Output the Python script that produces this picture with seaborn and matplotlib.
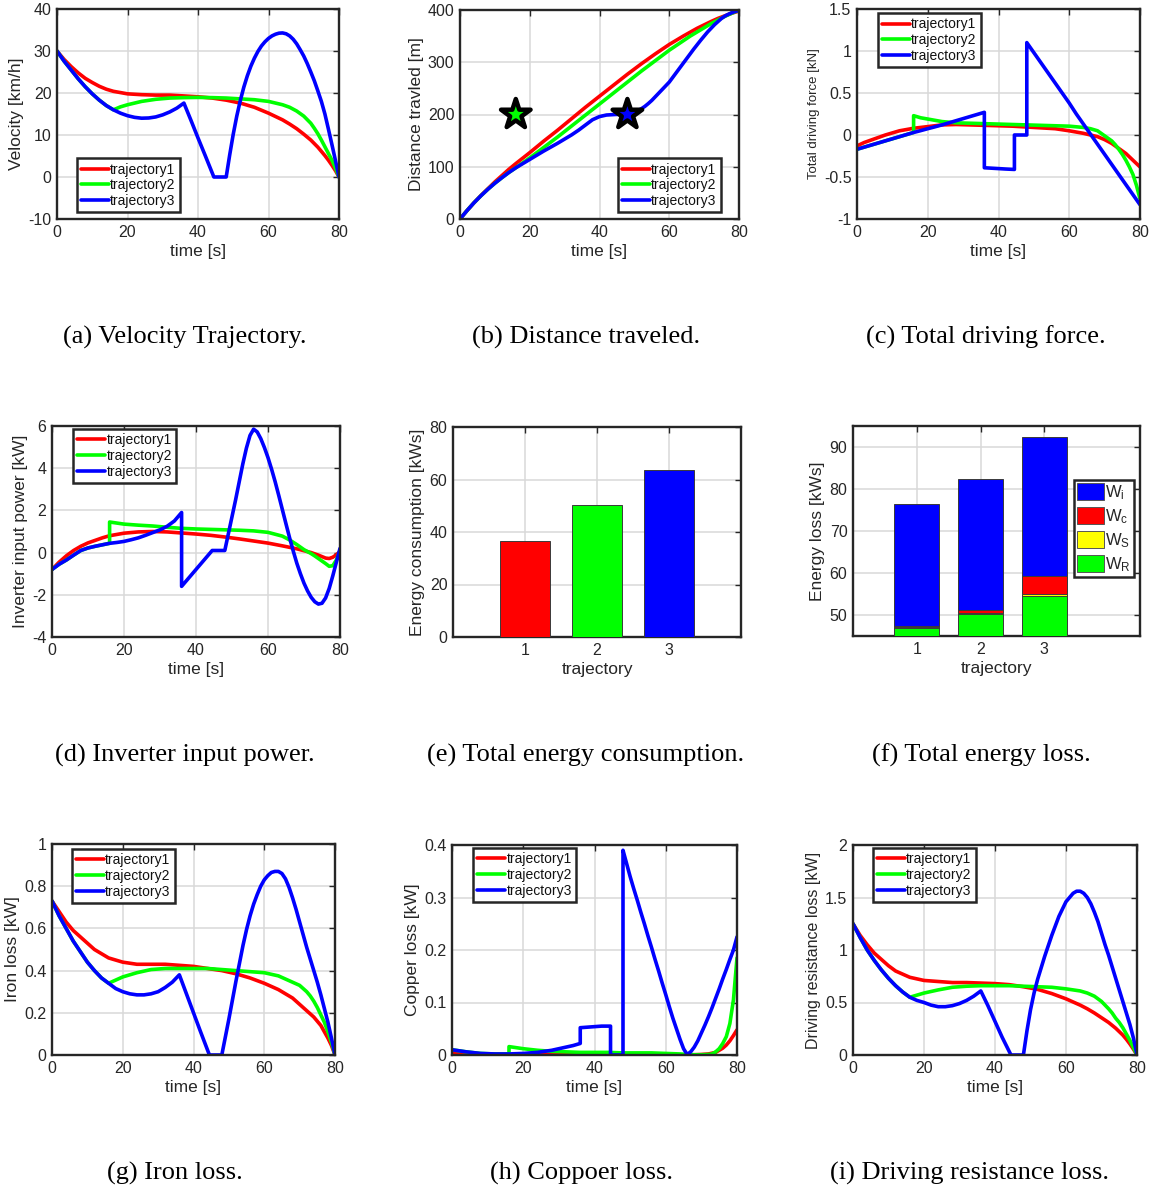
import numpy as np
import pandas as pd
import matplotlib
matplotlib.use("Agg")
import matplotlib.pyplot as plt
import seaborn as sns
from matplotlib.lines import Line2D
from matplotlib.patches import Patch

# ------------------------------------------------------------------ data
names = ["trajectory1", "trajectory2", "trajectory3"]
colors = ["#ff0000", "#00ff00", "#0000ff"]

# trajectory 1 (red)
t1 = [0, 2, 4, 6, 8, 10, 12, 14, 16, 20, 24, 28, 32, 36, 40, 44, 48, 52, 56, 60, 64, 66, 68,
      70, 72, 74, 76, 77, 78, 79, 80]
vel1 = [30, 28.0, 26.3, 24.8, 23.5, 22.5, 21.6, 20.9, 20.4, 19.8, 19.6, 19.5, 19.5, 19.3, 19.1,
        18.8, 18.3, 17.6, 16.6, 15.2, 13.6, 12.6, 11.5, 10.2, 8.8, 7.1, 5.1, 4.0, 2.8, 1.5, 0]
dist1 = [0, 16, 31, 45, 58, 71, 83, 95, 106, 127, 149, 170, 192, 214, 235, 256, 277, 297, 316,
         334, 350, 357.5, 365, 371.5, 378, 384, 389, 391.5, 394, 396, 398]
force1 = [-0.13, -0.09, -0.06, -0.03, 0.0, 0.025, 0.05, 0.065, 0.08, 0.10, 0.12, 0.125, 0.12,
          0.115, 0.11, 0.105, 0.095, 0.085, 0.075, 0.05, 0.02, 0.0, -0.02, -0.055, -0.10, -0.16,
          -0.22, -0.26, -0.30, -0.34, -0.38]
power1 = [-0.8, -0.45, -0.15, 0.1, 0.3, 0.46, 0.58, 0.7, 0.8, 0.92, 0.98, 1.0, 0.98, 0.93, 0.88,
          0.82, 0.74, 0.65, 0.55, 0.45, 0.32, 0.25, 0.18, 0.09, 0.0, -0.12, -0.26, -0.28, -0.22,
          -0.1, 0.05]
iron1 = [0.73, 0.68, 0.63, 0.59, 0.56, 0.53, 0.5, 0.48, 0.46, 0.44, 0.43, 0.43, 0.43, 0.425,
         0.42, 0.41, 0.4, 0.385, 0.365, 0.34, 0.31, 0.29, 0.27, 0.24, 0.21, 0.18, 0.14, 0.11,
         0.08, 0.045, 0.0]
copper1 = [0.005, 0.004, 0.003, 0.002, 0.0015, 0.001, 0.0008, 0.0007, 0.0006, 0.0008, 0.001,
           0.001, 0.001, 0.001, 0.001, 0.001, 0.001, 0.0008, 0.0006, 0.0004, 0.0002, 0.0003,
           0.0005, 0.001, 0.002, 0.005, 0.013, 0.019, 0.027, 0.037, 0.048]
resist1 = [1.25, 1.14, 1.05, 0.97, 0.91, 0.85, 0.8, 0.77, 0.74, 0.71, 0.7, 0.69, 0.69, 0.685,
           0.68, 0.67, 0.65, 0.625, 0.585, 0.535, 0.475, 0.44, 0.40, 0.355, 0.31, 0.255, 0.19,
           0.15, 0.105, 0.055, 0.0]

# trajectory 2 (green)
t2 = [0, 2, 4, 6, 8, 10, 12, 14, 16, 16, 18, 20, 24, 28, 32, 36, 40, 44, 48, 52, 56, 60, 64, 66,
      68, 70, 72, 73, 74, 75, 76, 77, 78, 79, 80]
vel2 = [30, 27.6, 25.5, 23.4, 21.5, 19.8, 18.3, 17.0, 16.0, 16.0, 16.7, 17.2, 18.0, 18.5, 18.8,
        18.9, 18.95, 18.9, 18.8, 18.6, 18.4, 18.0, 17.2, 16.6, 15.7, 14.5, 12.8, 11.6, 10.3, 8.8,
        7.2, 5.6, 4.0, 2.1, 0]
dist2 = [0, 16, 31, 44.5, 57, 68.5, 79, 89, 98, 98, 107.5, 117, 137, 157, 178, 199, 220, 241,
         262, 283, 303, 323, 341, 350, 358, 366, 374, 377.5, 381, 384.5, 388, 391, 394, 397, 399]
force2 = [-0.17, -0.145, -0.12, -0.095, -0.07, -0.045, -0.02, 0.005, 0.03, 0.23, 0.205, 0.19,
          0.16, 0.145, 0.14, 0.135, 0.13, 0.125, 0.12, 0.115, 0.11, 0.105, 0.09, 0.075, 0.05,
          -0.01, -0.07, -0.115, -0.17, -0.23, -0.30, -0.38, -0.47, -0.60, -0.76]
power2 = [-0.8, -0.55, -0.35, -0.12, 0.1, 0.22, 0.3, 0.37, 0.44, 1.45, 1.4, 1.35, 1.3, 1.26, 1.2,
          1.15, 1.12, 1.1, 1.08, 1.06, 1.03, 0.96, 0.78, 0.6, 0.38, 0.14, -0.05, -0.16, -0.28,
          -0.4, -0.52, -0.65, -0.62, -0.35, 0.1]
iron2 = [0.73, 0.66, 0.6, 0.54, 0.49, 0.44, 0.4, 0.365, 0.34, 0.34, 0.355, 0.37, 0.39, 0.405,
         0.41, 0.41, 0.41, 0.41, 0.405, 0.4, 0.395, 0.39, 0.375, 0.36, 0.345, 0.33, 0.3, 0.28,
         0.255, 0.225, 0.19, 0.155, 0.11, 0.06, 0.0]
copper2 = [0.01, 0.008, 0.006, 0.0045, 0.003, 0.0025, 0.002, 0.002, 0.002, 0.016, 0.014, 0.012,
           0.009, 0.007, 0.006, 0.005, 0.005, 0.005, 0.004, 0.004, 0.004, 0.003, 0.002, 0.001,
           0.0005, 0.0005, 0.001, 0.002, 0.006, 0.012, 0.022, 0.035, 0.06, 0.105, 0.185]
resist2 = [1.25, 1.12, 1.0, 0.9, 0.81, 0.73, 0.66, 0.6, 0.55, 0.55, 0.57, 0.59, 0.62, 0.645,
           0.655, 0.66, 0.66, 0.66, 0.655, 0.65, 0.645, 0.63, 0.61, 0.59, 0.56, 0.51, 0.44, 0.4,
           0.35, 0.31, 0.26, 0.2, 0.14, 0.07, 0.0]

# trajectory 3 (blue)
t3 = [0, 2, 4, 6, 8, 10, 12, 14, 16, 18, 20, 22, 24, 26, 28, 30, 32, 34, 36,
      36, 38, 40, 42, 44.5, 44.5, 48, 48,
      49, 50, 51, 52, 53, 54, 55, 56, 57, 58, 59, 60, 61, 62, 63, 64, 65, 66, 67, 68, 69, 70,
      71, 72, 73, 74, 75, 76, 77, 78, 79, 80]
vel3 = [30, 27.6, 25.5, 23.4, 21.5, 19.8, 18.3, 17.0, 16.0, 15.2, 14.6, 14.2, 14.0, 14.05, 14.3,
        14.8, 15.5, 16.4, 17.6,
        17.6, 13.5, 9.3, 5.2, 0, 0, 0, 0,
        5.3, 10.2, 14.5, 18.2, 21.4, 24.1, 26.4, 28.3, 29.9, 31.2, 32.2, 33.0, 33.6, 34.0, 34.25,
        34.3, 34.1, 33.6, 32.8, 31.7, 30.3, 28.8, 27.0, 25.0, 22.9, 20.5, 18.0, 15.0, 11.4, 7.7,
        3.9, 0]
dist3 = [0, 16, 31, 44.5, 57, 68.5, 79, 89, 98, 106, 114, 122, 130, 137.5, 145, 153, 161, 170,
         180,
         180, 190, 196, 199, 200, 200, 201, 201,
         202, 205, 207.5, 211, 215.5, 221, 227, 234, 241, 248, 255, 262, 271, 280, 289, 298, 307,
         316, 325, 333.5, 342, 350, 358, 365, 372, 378, 384, 388.5, 392, 395, 397.5, 399]
force3 = [-0.17, -0.145, -0.12, -0.095, -0.07, -0.045, -0.02, 0.005, 0.03, 0.052, 0.075, 0.097,
          0.12, 0.145, 0.17, 0.195, 0.22, 0.245, 0.27,
          -0.39, -0.395, -0.40, -0.405, -0.41, 0.0, 0.0, 1.1,
          1.04, 0.98, 0.92, 0.86, 0.80, 0.74, 0.68, 0.62, 0.56, 0.50, 0.44, 0.38, 0.315, 0.25,
          0.19, 0.13, 0.07, 0.01, -0.05, -0.11, -0.17, -0.23, -0.29, -0.35, -0.41, -0.47, -0.53,
          -0.59, -0.65, -0.71, -0.77, -0.83]
power3 = [-0.8, -0.55, -0.35, -0.12, 0.1, 0.22, 0.3, 0.37, 0.44, 0.48, 0.53, 0.61, 0.7, 0.82,
          0.95, 1.08, 1.25, 1.5, 1.9,
          -1.6, -1.2, -0.8, -0.4, 0.1, 0.1, 0.1, 0.1,
          0.9, 1.7, 2.5, 3.35, 4.2, 4.95, 5.55, 5.85, 5.72, 5.4, 4.98, 4.5, 3.95, 3.35, 2.7, 2.03,
          1.36, 0.7, 0.08, -0.5, -1.0, -1.45, -1.82, -2.12, -2.33, -2.44, -2.4, -2.15, -1.7,
          -1.1, -0.45, 0.2]
iron3 = [0.73, 0.66, 0.6, 0.54, 0.49, 0.44, 0.4, 0.365, 0.34, 0.315, 0.3, 0.29, 0.285, 0.285,
         0.29, 0.3, 0.32, 0.345, 0.38,
         0.38, 0.29, 0.2, 0.11, 0.0, 0.0, 0.0, 0.0,
         0.085, 0.17, 0.26, 0.35, 0.435, 0.52, 0.595, 0.66, 0.715, 0.76, 0.8, 0.83, 0.85, 0.865,
         0.87, 0.87, 0.86, 0.835, 0.795, 0.745, 0.69, 0.63, 0.57, 0.51, 0.455, 0.4, 0.345,
         0.285, 0.22, 0.155, 0.08, 0.0]
copper3 = [0.01, 0.008, 0.006, 0.0045, 0.003, 0.0025, 0.002, 0.002, 0.002, 0.0025, 0.003, 0.004,
           0.005, 0.007, 0.009, 0.012, 0.015, 0.018, 0.022,
           0.052, 0.053, 0.054, 0.055, 0.055, 0.0, 0.0, 0.39,
           0.365, 0.34, 0.317, 0.295, 0.272, 0.25, 0.227, 0.205, 0.182, 0.16, 0.137, 0.115,
           0.092, 0.07, 0.05, 0.03, 0.012, 0.001, 0.006, 0.015, 0.027, 0.042, 0.057, 0.073, 0.09,
           0.108, 0.126, 0.145, 0.163, 0.182, 0.2, 0.225]
resist3 = [1.25, 1.12, 1.0, 0.9, 0.81, 0.73, 0.66, 0.6, 0.55, 0.52, 0.5, 0.475, 0.46, 0.46, 0.47,
           0.49, 0.52, 0.56, 0.61,
           0.61, 0.47, 0.32, 0.17, 0.0, 0.0, 0.0, 0.0,
           0.23, 0.43, 0.59, 0.72, 0.83, 0.94, 1.04, 1.14, 1.23, 1.32, 1.39, 1.46, 1.5, 1.54,
           1.56, 1.56, 1.54, 1.5, 1.44, 1.36, 1.27, 1.16, 1.05, 0.95, 0.84, 0.73, 0.62, 0.51,
           0.4, 0.29, 0.16, 0.0]

# target points in the distance plot
star_t = [16, 48]
star_d = [200, 200]
star_traj = ["trajectory2", "trajectory3"]

# energy consumption (e)
traj_ids = [1, 2, 3]
energy_consumption = [36.5, 50.2, 63.5]

# energy loss components (f)
loss_R = [47.0, 50.3, 54.5]
loss_S = [0.1, 0.1, 0.4]
loss_c = [0.3, 0.8, 4.5]
loss_i = [29.1, 31.1, 32.9]
loss_labels = ["W$_\\mathregular{i}$", "W$_\\mathregular{c}$", "W$_\\mathregular{S}$",
               "W$_\\mathregular{R}$"]
loss_colors = ["#0000ff", "#ff0000", "#ffff00", "#00ff00"]

time_ticks = [0, 20, 40, 60, 80]
vel_ticks = [-10, 0, 10, 20, 30, 40]
dist_ticks = [0, 100, 200, 300, 400]
force_ticks = [-1, -0.5, 0, 0.5, 1, 1.5]
force_ticklabels = ["-1", "-0.5", "0", "0.5", "1", "1.5"]
power_ticks = [-4, -2, 0, 2, 4, 6]
cons_ticks = [0, 20, 40, 60, 80]
loss_ticks = [50, 60, 70, 80, 90]
iron_ticks = [0, 0.2, 0.4, 0.6, 0.8, 1]
iron_ticklabels = ["0", "0.2", "0.4", "0.6", "0.8", "1"]
copper_ticks = [0, 0.1, 0.2, 0.3, 0.4]
copper_ticklabels = ["0", "0.1", "0.2", "0.3", "0.4"]
resist_ticks = [0, 0.5, 1, 1.5, 2]
resist_ticklabels = ["0", "0.5", "1", "1.5", "2"]

captions = ["(a) Velocity Trajectory.", "(b) Distance traveled.", "(c) Total driving force.",
            "(d) Inverter input power.", "(e) Total energy consumption.",
            "(f) Total energy loss.", "(g) Iron loss.", "(h) Coppoer loss.",
            "(i) Driving resistance loss."]

# ------------------------------------------------------------------ style
sns.set_theme(style="white")
plt.rcParams["font.family"] = ["Liberation Sans", "DejaVu Sans"]
plt.rcParams["axes.unicode_minus"] = False
plt.rcParams["mathtext.default"] = "regular"

W, H = 1158, 1191
fig = plt.figure(figsize=(W / 100, H / 100), dpi=100)
fig.patch.set_facecolor("white")


def add_axes(L, R, T, B):
    return fig.add_axes([L / W, 1 - B / H, (R - L) / W, (B - T) / H])


DARK = "#262626"
LW = 2.6


def style(ax, xlim, ylim, xticks, yticks, ylabel, xlabel="time [s]", yticklabels=None,
          ylabelsize=12.5):
    ax.set_xlim(*xlim)
    ax.set_ylim(*ylim)
    ax.set_xticks(xticks)
    ax.set_yticks(yticks)
    if yticklabels is not None:
        ax.set_yticklabels(yticklabels)
    ax.grid(True, color="#d8d8d8", lw=1.1)
    ax.set_axisbelow(True)
    for s in ax.spines.values():
        s.set_visible(True)
        s.set_color(DARK)
        s.set_linewidth(1.7)
    ax.tick_params(direction="in", top=True, right=True, length=4, width=1.0,
                   colors=DARK, labelsize=11.5, pad=4)
    ax.set_xlabel(xlabel, fontsize=12.5, color=DARK, labelpad=3)
    ax.set_ylabel(ylabel, fontsize=ylabelsize, color=DARK, labelpad=3)


def traj_frame(v1, v2, v3):
    frames = []
    for name, t, v in zip(names, [t1, t2, t3], [v1, v2, v3]):
        frames.append(pd.DataFrame({"t": t, "y": v, "traj": name}))
    return pd.concat(frames, ignore_index=True)


def draw_lines(ax, v1, v2, v3):
    df = traj_frame(v1, v2, v3)
    sns.lineplot(data=df, x="t", y="y", hue="traj", hue_order=names, palette=colors,
                 estimator=None, sort=False, lw=LW, legend=False, ax=ax,
                 solid_joinstyle="round")


def line_legend(ax, loc, anchor):
    handles = [Line2D([], [], color=c, lw=LW) for c in colors]
    leg = ax.legend(handles, names, loc=loc, bbox_to_anchor=anchor, borderaxespad=0,
                    fontsize=10, handlelength=2.0, handletextpad=0.1, borderpad=0.3,
                    labelspacing=0.12, frameon=True, fancybox=False, framealpha=1,
                    edgecolor=DARK)
    leg.get_frame().set_linewidth(1.8)
    for txt in leg.get_texts():
        txt.set_color("#111111")


# (a) velocity
ax = add_axes(57, 339, 9, 219)
draw_lines(ax, vel1, vel2, vel3)
style(ax, (0, 80), (-10, 40), time_ticks, vel_ticks, "Velocity [km/h]")
line_legend(ax, "lower left", (0.07, 0.033))

# (b) distance
ax = add_axes(460, 739, 10, 219)
draw_lines(ax, dist1, dist2, dist3)
sdf = pd.DataFrame({"t": star_t, "d": star_d, "traj": star_traj})
sns.scatterplot(data=sdf, x="t", y="d", hue="traj", palette=colors[1:], marker="*", s=500,
                edgecolor="black", linewidth=3.2, legend=False, ax=ax, zorder=5)
style(ax, (0, 80), (0, 400), time_ticks, dist_ticks, "Distance travled [m]")
line_legend(ax, "lower right", (0.935, 0.033))

# (c) force
ax = add_axes(857, 1140, 9, 219)
draw_lines(ax, force1, force2, force3)
style(ax, (0, 80), (-1, 1.5), time_ticks, force_ticks, "Total driving force [kN]",
      yticklabels=force_ticklabels, ylabelsize=9.5)
line_legend(ax, "upper left", (0.074, 0.98))

# (d) inverter power
ax = add_axes(52, 340, 426, 637)
draw_lines(ax, power1, power2, power3)
style(ax, (0, 80), (-4, 6), time_ticks, power_ticks, "Inverter input power [kW]")
line_legend(ax, "upper left", (0.073, 0.985))

# (e) energy consumption
ax = add_axes(453, 741, 427, 637)
edf = pd.DataFrame({"traj": traj_ids, "E": energy_consumption})
sns.barplot(data=edf, x="traj", y="E", hue="traj", palette=colors, native_scale=True,
            width=0.7, edgecolor="#3a3a3a", linewidth=0.7, legend=False, ax=ax, zorder=3,
            saturation=1)
style(ax, (0, 4), (0, 80), traj_ids, cons_ticks, "Energy consumption [kWs]",
      xlabel="trajectory")

# (f) energy loss stacked
ax = add_axes(853, 1140, 426, 636)
cum_R = np.array(loss_R)
cum_S = cum_R + np.array(loss_S)
cum_c = cum_S + np.array(loss_c)
cum_i = cum_c + np.array(loss_i)
for heights, col in zip([cum_i, cum_c, cum_S, cum_R], loss_colors):
    fdf = pd.DataFrame({"traj": traj_ids, "E": heights})
    sns.barplot(data=fdf, x="traj", y="E", color=col, native_scale=True, width=0.7,
                edgecolor="#3a3a3a", linewidth=0.7, ax=ax, zorder=3, saturation=1)
style(ax, (0, 4.5), (45, 95), traj_ids, loss_ticks, "Energy loss [kWs]", xlabel="trajectory")
patches = [Patch(facecolor=c, edgecolor="#555555", lw=0.7) for c in loss_colors]
leg = ax.legend(patches, loss_labels, loc="upper right", bbox_to_anchor=(0.98, 0.745),
                borderaxespad=0, fontsize=12, handlelength=1.6, handleheight=1.2,
                handletextpad=0.05, borderpad=0.22, labelspacing=0.3, frameon=True,
                fancybox=False, framealpha=1, edgecolor=DARK)
leg.get_frame().set_linewidth(1.8)

# (g) iron loss
ax = add_axes(52, 335, 844, 1055)
draw_lines(ax, iron1, iron2, iron3)
style(ax, (0, 80), (0, 1), time_ticks, iron_ticks, "Iron loss [kW]",
      yticklabels=iron_ticklabels)
line_legend(ax, "upper left", (0.07, 0.976))

# (h) copper loss
ax = add_axes(452, 737, 845, 1055)
draw_lines(ax, copper1, copper2, copper3)
style(ax, (0, 80), (0, 0.4), time_ticks, copper_ticks, "Copper loss [kW]",
      yticklabels=copper_ticklabels)
line_legend(ax, "upper left", (0.074, 0.985))

# (i) driving resistance loss
ax = add_axes(853, 1137, 845, 1055)
draw_lines(ax, resist1, resist2, resist3)
style(ax, (0, 80), (0, 2), time_ticks, resist_ticks, "Driving resistance loss [kW]",
      yticklabels=resist_ticklabels, ylabelsize=11.5)
line_legend(ax, "upper left", (0.07, 0.985))

# captions
cap_pos = [(185, 337), (586, 337), (986, 337), (185, 755), (586, 755), (981, 755),
           (175, 1173), (582, 1173), (969, 1173)]
for (cx, cy), txt in zip(cap_pos, captions):
    fig.text(cx / W, 1 - cy / H, txt, ha="center", va="center", fontsize=19,
             family="Liberation Serif", color="black")

fig.savefig("out.png", dpi=100, facecolor="white")
